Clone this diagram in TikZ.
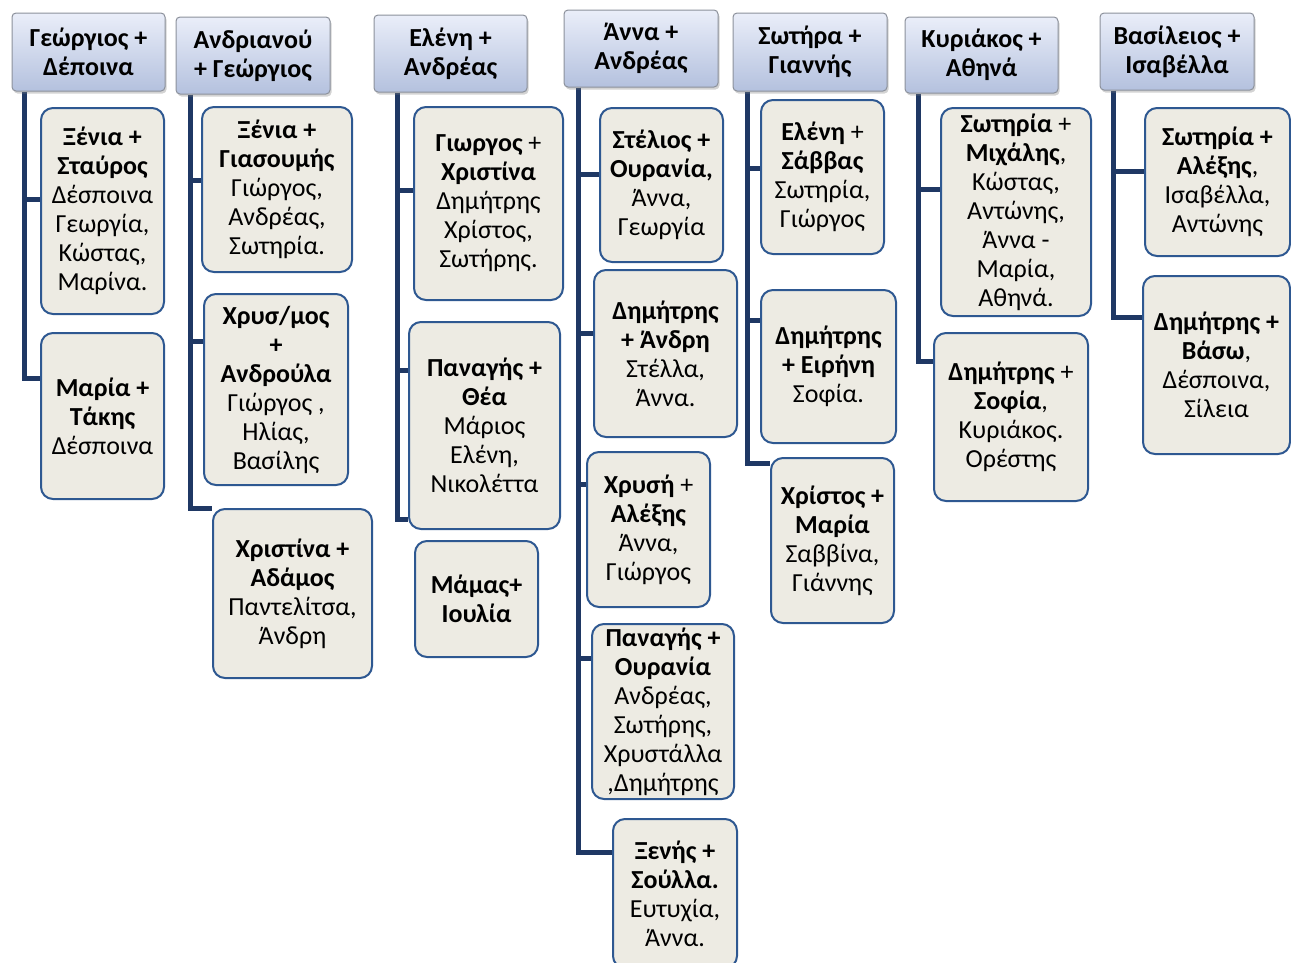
\documentclass[tikz,border=0pt]{standalone}
\usepackage{fontspec}
\setmainfont{Carlito}
\usetikzlibrary{shadows,backgrounds}
\definecolor{trunkc}{RGB}{31,56,100}
\definecolor{cfill}{RGB}{237,235,227}
\definecolor{cborder}{RGB}{46,88,145}
\definecolor{htop}{RGB}{234,238,249}
\definecolor{hbot}{RGB}{180,193,222}
\definecolor{hborder}{RGB}{140,145,155}
\tikzset{
 hdr/.style={draw=hborder, line width=1pt, rounded corners=4pt, top color=htop, bottom color=hbot,
   drop shadow={shadow xshift=1.5pt, shadow yshift=-2.5pt, opacity=0.35},
   align=center, inner sep=0pt, font=\bfseries\fontsize{26}{29}\selectfont},
 kid/.style={draw=cborder, line width=2pt, rounded corners=12pt, fill=cfill,
   align=center, inner sep=0pt, font=\fontsize{26}{29}\selectfont},
 trunk/.style={draw=trunkc, line width=5pt, line join=miter}
}
\begin{document}
\begin{tikzpicture}[x=1pt,y=-1pt]
\useasboundingbox (0,0) rectangle (1291,962);
\clip (0,0) rectangle (1291,962);
% headers
\node[hdr, minimum width=153pt, minimum height=78pt] (h1) at (88.5,52) {Γεώργιος +\\Δέποινα};
\node[hdr, minimum width=154pt, minimum height=77pt] (h2) at (253,55.5) {Ανδριανού\\+ Γεώργιος};
\node[hdr, minimum width=153pt, minimum height=77pt] (h3) at (450.5,53.5) {Ελένη +\\Ανδρέας};
\node[hdr, minimum width=154pt, minimum height=77pt] (h4) at (641,48.5) {Άννα +\\Ανδρέας};
\node[hdr, minimum width=154pt, minimum height=78pt] (h5) at (810,52) {Σωτήρα +\\Γιαννής};
\node[hdr, minimum width=153pt, minimum height=76pt] (h6) at (981.5,55) {Κυριάκος +\\Αθηνά};
\node[hdr, minimum width=154pt, minimum height=77pt] (h7) at (1177,51.5) {Βασίλειος +\\Ισαβέλλα};
% column 1
\node[kid, minimum width=123pt, minimum height=206pt] (c11) at (102.5,211) {\textbf{Ξένια +}\\\textbf{Σταύρος}\\Δέσποινα\\Γεωργία,\\Κώστας,\\Μαρίνα.};
\node[kid, minimum width=123pt, minimum height=166pt] (c12) at (102.5,416) {\textbf{Μαρία +}\\\textbf{Τάκης}\\Δέσποινα};
% column 2
\node[kid, minimum width=150pt, minimum height=165pt] (c21) at (277,189.5) {\textbf{Ξένια +}\\\textbf{Γιασουμής}\\Γιώργος,\\Ανδρέας,\\Σωτηρία.};
\node[kid, minimum width=144pt, minimum height=191pt] (c22) at (276,389.5) {\textbf{Χρυσ/μος}\\\textbf{+}\\\textbf{Ανδρούλα}\\Γιώργος ,\\Ηλίας,\\Βασίλης};
\node[kid, minimum width=159pt, minimum height=169pt] (c23) at (292.5,593.5) {\textbf{Χριστίνα +}\\\textbf{Αδάμος}\\Παντελίτσα,\\Άνδρη};
% column 3
\node[kid, minimum width=149pt, minimum height=193pt] (c31) at (488.5,203.5) {\textbf{Γιωργος} +\\\textbf{Χριστίνα}\\Δημήτρης\\Χρίστος,\\Σωτήρης.};
\node[kid, minimum width=151pt, minimum height=207pt] (c32) at (484.5,425.5) {\textbf{Παναγής +}\\\textbf{Θέα}\\Μάριος\\Ελένη,\\Νικολέττα};
\node[kid, minimum width=123pt, minimum height=116pt] (c33) at (476.5,599) {\textbf{Μάμας+}\\\textbf{Ιουλία}};
% column 4
\node[kid, minimum width=123pt, minimum height=154pt] (c41) at (661.5,185) {\textbf{Στέλιος +}\\\textbf{Ουρανία,}\\Άννα,\\Γεωργία};
\node[kid, minimum width=143pt, minimum height=167pt] (c42) at (665.5,353.5) {\textbf{Δημήτρης}\\\textbf{+ Άνδρη}\\Στέλλα,\\Άννα.};
\node[kid, minimum width=123pt, minimum height=155pt] (c43) at (648.5,529.5) {\textbf{Χρυσή} +\\\textbf{Αλέξης}\\Άννα,\\Γιώργος};
\node[kid, minimum width=142pt, minimum height=175pt] (c44) at (663,711.5) {\textbf{Παναγής +}\\\textbf{Ουρανία}\\Ανδρέας,\\Σωτήρης,\\Χρυστάλλα\\,Δημήτρης};
\node[kid, minimum width=124pt, minimum height=149pt] (c45) at (675,893.5) {\textbf{Ξενής +}\\\textbf{Σούλλα.}\\Ευτυχία,\\Άννα.};
% column 5
\node[kid, minimum width=123pt, minimum height=154pt] (c51) at (822.5,177) {\textbf{Ελένη} +\\\textbf{Σάββας}\\Σωτηρία,\\Γιώργος};
\node[kid, minimum width=135pt, minimum height=153pt] (c52) at (828.5,366.5) {\textbf{Δημήτρης}\\\textbf{+ Ειρήνη}\\Σοφία.};
\node[kid, minimum width=123pt, minimum height=165pt] (c53) at (832.5,540.5) {\textbf{Χρίστος +}\\\textbf{Μαρία}\\Σαββίνα,\\Γιάννης};
% column 6
\node[kid, minimum width=150pt, minimum height=208pt] (c61) at (1016,212) {\textbf{Σωτηρία} +\\\textbf{Μιχάλης},\\Κώστας,\\Αντώνης,\\Άννα -\\Μαρία,\\Αθηνά.};
\node[kid, minimum width=154pt, minimum height=168pt] (c62) at (1011,417) {\textbf{Δημήτρης} +\\\textbf{Σοφία},\\Κυριάκος.\\Ορέστης};
% column 7
\node[kid, minimum width=145pt, minimum height=148pt] (c71) at (1217.5,182) {\textbf{Σωτηρία +}\\\textbf{Αλέξης},\\Ισαβέλλα,\\Αντώνης};
\node[kid, minimum width=147pt, minimum height=178pt] (c72) at (1216.5,365) {\textbf{Δημήτρης +}\\\textbf{Βάσω},\\Δέσποινα,\\Σίλεια};
% connectors
\begin{scope}[on background layer]
\draw[trunk] ([xshift=13pt]h1.south west) |- ([yshift=12pt]c11.west);
\draw[trunk] ([xshift=13pt]h1.south west) |- ([yshift=38pt]c12.west);
\draw[trunk] ([xshift=15pt]h2.south west) |- ([yshift=9.5pt]c21.west);
\draw[trunk] ([xshift=15pt]h2.south west) |- ([yshift=48.5pt]c22.west);
\draw[trunk] ([xshift=15pt]h2.south west) |- ([yshift=85.5pt]c23.west);
\draw[trunk] ([xshift=24pt]h3.south west) |- ([yshift=13.5pt]c31.west);
\draw[trunk] ([xshift=24pt]h3.south west) |- ([yshift=55.5pt]c32.west);
\draw[trunk] ([xshift=24pt]h3.south west) |- ([yshift=-93.5pt]c32.west);
\draw[trunk] ([xshift=15pt]h4.south west) |- ([yshift=11pt]c41.west);
\draw[trunk] ([xshift=15pt]h4.south west) |- ([yshift=20.5pt]c42.west);
\draw[trunk] ([xshift=15pt]h4.south west) |- ([yshift=45.5pt]c43.west);
\draw[trunk] ([xshift=15pt]h4.south west) |- ([yshift=53.5pt]c44.west);
\draw[trunk] ([xshift=15pt]h4.south west) |- ([yshift=41.5pt]c45.west);
\draw[trunk] ([xshift=15pt]h5.south west) |- ([yshift=9pt]c51.west);
\draw[trunk] ([xshift=15pt]h5.south west) |- ([yshift=46.5pt]c52.west);
\draw[trunk] ([xshift=15pt]h5.south west) |- ([yshift=77.5pt]c53.west);
\draw[trunk] ([xshift=14pt]h6.south west) |- ([yshift=23pt]c61.west);
\draw[trunk] ([xshift=14pt]h6.south west) |- ([yshift=56pt]c62.west);
\draw[trunk] ([xshift=14pt]h7.south west) |- ([yshift=11pt]c71.west);
\draw[trunk] ([xshift=14pt]h7.south west) |- ([yshift=48pt]c72.west);
\end{scope}
\end{tikzpicture}
\end{document}
